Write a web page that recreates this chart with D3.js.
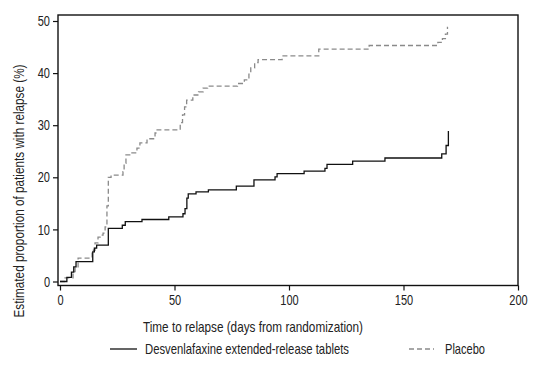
<!DOCTYPE html>
<html><head><meta charset="utf-8">
<script src="https://cdn.jsdelivr.net/npm/d3@7/dist/d3.min.js"></script>
<style>
body{margin:0;background:#fff;}
text{font-family:"Liberation Sans Narrow","Liberation Sans",Arial,sans-serif;fill:#222;}
</style></head><body>
<svg id="c" width="543" height="368"></svg>
<script>
const xTicks = [0, 50, 100, 150, 200];
const yTicks = [0, 10, 20, 30, 40, 50];
const seriesNames = ["Desvenlafaxine extended-release tablets", "Placebo"];
const xTitle = "Time to relapse (days from randomization)";
const yTitle = "Estimated proportion of patients with relapse (%)";

const desvDays = [0, 3, 5, 6, 7, 14.3, 15, 16, 21.1, 27.2, 28.5, 35.8, 47.5, 53.7, 54.6, 55.4, 56, 59.4, 64.8, 77, 84.7, 93.9, 94.8, 106.6, 115.7, 116.6, 127.8, 141.9, 166.7, 168.6, 169.6];
const desvPct  = [0, 0.8, 1.8, 2.8, 3.8, 5.7, 6.4, 7.0, 10.2, 10.8, 11.5, 11.9, 12.4, 13.0, 14.0, 16.0, 16.8, 17.2, 17.6, 18.3, 19.5, 20.1, 20.7, 21.2, 21.7, 22.5, 23.1, 23.7, 24.5, 26.1, 28.9];

const placDays = [0, 2.2, 5.7, 6.6, 7.9, 14.0, 15.3, 16.6, 17.5, 18.8, 19.7, 20.5, 21.1, 22.3, 27.5, 28.0, 28.8, 31.4, 33.6, 34.9, 38.0, 41.5, 42.4, 52.5, 53.5, 54.4, 55.3, 58.0, 60.5, 62.5, 64.5, 77.5, 80.5, 82.5, 83.3, 85.0, 86.5, 97.0, 113.0, 135.0, 165.0, 167.0, 168.3, 169.2];
const placPct  = [0, 0.7, 1.9, 2.6, 4.5, 6.0, 7.4, 8.5, 8.9, 9.3, 10.5, 14.5, 20.0, 20.4, 21.1, 22.7, 24.3, 24.7, 25.6, 26.6, 27.4, 28.5, 29.1, 30.5, 32.0, 33.5, 34.8, 35.8, 36.4, 37.1, 37.5, 38.0, 38.7, 39.8, 41.0, 42.0, 42.6, 43.3, 44.6, 45.3, 45.9, 46.6, 47.5, 48.9];

const svg = d3.select("#c");
const x = d3.scaleLinear().domain([0, 200]).range([60, 518]);
const y = d3.scaleLinear().domain([0, 50]).range([281.5, 21]);
const frame = {l: 58, r: 518, t: 15, b: 285.5};
const FS = 14.5, SX = 0.76;

// frame
svg.append("rect").attr("x", frame.l).attr("y", frame.t)
  .attr("width", frame.r - frame.l).attr("height", frame.b - frame.t)
  .attr("fill", "none").attr("stroke", "#111").attr("stroke-width", 1.4);

// y axis
const yAxis = svg.append("g").attr("transform", `translate(${frame.l},0)`)
  .call(d3.axisLeft(y).tickValues(yTicks).tickSize(5).tickPadding(3));
yAxis.select(".domain").remove();
yAxis.selectAll("line").attr("stroke", "#111").attr("stroke-width", 1.2);
yAxis.selectAll("text").attr("font-size", FS).style("fill", "#222")
  .attr("x", null).attr("transform", `translate(-8,0) scale(${SX},1)`);

// x axis
const xAxis = svg.append("g").attr("transform", `translate(0,${frame.b})`)
  .call(d3.axisBottom(x).tickValues(xTicks).tickSize(5).tickPadding(4));
xAxis.select(".domain").remove();
xAxis.selectAll("line").attr("stroke", "#111").attr("stroke-width", 1.2);
xAxis.selectAll("text").attr("font-size", FS).style("fill", "#222")
  .attr("transform", `scale(${SX},1)`);

// titles
svg.append("text").attr("x", 253).attr("y", 331.5).attr("text-anchor", "middle")
  .attr("font-size", FS).attr("textLength", 220).attr("lengthAdjust", "spacingAndGlyphs").text(xTitle);
svg.append("text").attr("transform", "translate(23.5,191) rotate(-90)")
  .attr("text-anchor", "middle").attr("font-size", FS)
  .attr("textLength", 253).attr("lengthAdjust", "spacingAndGlyphs").text(yTitle);

// curves
const line = d3.line().curve(d3.curveStepAfter).x(d => x(d[0])).y(d => y(d[1]));
const placData = placDays.map((d, i) => [d, placPct[i]]);
const desvData = desvDays.map((d, i) => [d, desvPct[i]]);
svg.append("path").attr("d", line(placData)).attr("fill", "none")
  .attr("stroke", "#8a8a8a").attr("stroke-width", 1.3).attr("stroke-dasharray", "5,3");
svg.append("path").attr("d", line(desvData)).attr("fill", "none")
  .attr("stroke", "#111").attr("stroke-width", 1.3);

// legend
svg.append("line").attr("x1", 110).attr("x2", 137).attr("y1", 349).attr("y2", 349)
  .attr("stroke", "#111").attr("stroke-width", 1.3);
svg.append("text").attr("x", 145).attr("y", 354).attr("font-size", FS)
  .attr("textLength", 204).attr("lengthAdjust", "spacingAndGlyphs").text(seriesNames[0]);
svg.append("line").attr("x1", 409).attr("x2", 434).attr("y1", 349).attr("y2", 349)
  .attr("stroke", "#8a8a8a").attr("stroke-width", 1.3).attr("stroke-dasharray", "5,3");
svg.append("text").attr("x", 445).attr("y", 354).attr("font-size", FS)
  .attr("textLength", 40).attr("lengthAdjust", "spacingAndGlyphs").text(seriesNames[1]);
</script>
</body></html>
